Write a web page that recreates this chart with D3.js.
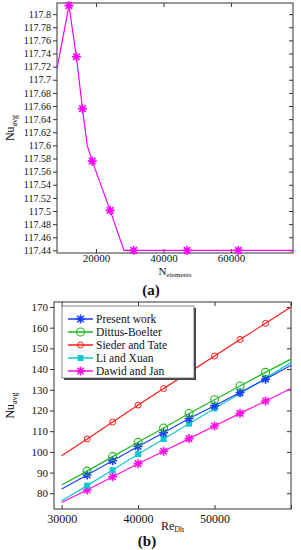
<!DOCTYPE html>
<html>
<head>
<meta charset="utf-8">
<script src="https://cdn.jsdelivr.net/npm/d3@7"></script>
<style>
  body { margin: 0; background: #fff; }
  svg { display: block; font-family: "Liberation Serif", "DejaVu Serif", serif; }
</style>
</head>
<body>
<svg id="viz" width="301" height="550"></svg>
<script>
// ---- (a) mesh independence ----
const meshN = [8450, 12000, 14200, 16000, 17400, 18900, 24200, 28300, 78400];
const meshNu = [117.717, 117.813, 117.735, 117.656, 117.600, 117.576, 117.501, 117.44, 117.44];
const markN = [12000, 14200, 16000, 18900, 24200, 31200, 47000, 62200];
const markNu = [117.813, 117.735, 117.656, 117.576, 117.501, 117.44, 117.44, 117.44];
const meshTicksX = [20000, 40000, 60000];

// ---- (b) Nu vs Re ----
const reVals = [30000, 33333, 36667, 40000, 43333, 46667, 50000, 53333, 56667, 60000];
const presentWork = [82.1, 88.8, 95.7, 102.6, 109.2, 116.1, 122.3, 128.7, 135.1, 141.8];
const dittusBoelter = [84.0, 90.7, 97.7, 104.6, 111.5, 118.5, 125.2, 131.8, 138.4, 144.8];
const siederTate = [98.1, 106.2, 114.4, 122.6, 130.6, 138.4, 146.3, 154.3, 162.1, 170.0];
const liXuan = [76.4, 83.7, 91.2, 98.9, 106.2, 113.6, 121.0, 128.2, 135.5, 143.2];
const dawidJan = [75.5, 81.6, 88.0, 94.3, 100.3, 106.4, 112.5, 118.6, 124.6, 130.6];
const seriesNames = ["Present work", "Dittus-Boelter", "Sieder and Tate", "Li and Xuan", "Dawid and Jan"];
const reTicks = [30000, 40000, 50000, 60000];

const svg = d3.select("#viz");

// marker helpers
function asterisk(r) {
  const d = r * 0.72;
  return `M${-r},0L${r},0M0,${-r}L0,${r}M${-d},${-d}L${d},${d}M${-d},${d}L${d},${-d}`;
}
function drawMarker(g, type, x, y, color) {
  if (type === "star") {
    g.append("path").attr("transform", `translate(${x},${y})`).attr("d", asterisk(4.5))
      .attr("stroke", color).attr("stroke-width", 1.6).attr("fill", "none");
  } else if (type === "circle") {
    g.append("circle").attr("cx", x).attr("cy", y).attr("r", 4)
      .attr("stroke", color).attr("stroke-width", 1.1).attr("fill", "none");
  } else if (type === "smallcircle") {
    g.append("circle").attr("cx", x).attr("cy", y).attr("r", 3)
      .attr("stroke", color).attr("stroke-width", 1).attr("fill", "none");
  } else if (type === "square") {
    g.append("rect").attr("x", x - 3).attr("y", y - 3).attr("width", 6).attr("height", 6)
      .attr("fill", color);
  }
}

// ================= chart (a) =================
const A = { l: 57, r: 293, t: 3, b: 253 };
const xa = d3.scaleLinear().domain([8450, 78400]).range([A.l, A.r]);
const ya = d3.scaleLinear().domain([117.436, 117.817]).range([A.b, A.t]);
const yTicksA = d3.range(0, 19).map(i => +(117.44 + i * 0.02).toFixed(2));
const fmtA = d => String(+d.toFixed(2));

const ga = svg.append("g");
ga.append("rect").attr("x", A.l).attr("y", A.t).attr("width", A.r - A.l).attr("height", A.b - A.t)
  .attr("fill", "none").attr("stroke", "#333").attr("stroke-width", 1);

// left ticks (outside) with labels
ga.append("g").attr("transform", `translate(${A.l},0)`)
  .call(d3.axisLeft(ya).tickValues(yTicksA).tickFormat(fmtA).tickSize(4).tickPadding(2))
  .call(g => g.select(".domain").remove())
  .call(g => g.selectAll("text").attr("font-size", 10).attr("font-family", "Liberation Serif").attr("fill", "#111"))
  .call(g => g.selectAll("line").attr("stroke", "#333"));
// right ticks (inside)
ga.append("g").attr("transform", `translate(${A.r},0)`)
  .call(d3.axisLeft(ya).tickValues(yTicksA).tickFormat("").tickSize(4))
  .call(g => g.select(".domain").remove())
  .call(g => g.selectAll("line").attr("stroke", "#333"));
// bottom ticks (inside) with labels
ga.append("g").attr("transform", `translate(0,${A.b})`)
  .call(d3.axisBottom(xa).tickValues(meshTicksX).tickFormat(d3.format("d")).tickSize(-4).tickPadding(1))
  .call(g => g.select(".domain").remove())
  .call(g => g.selectAll("text").attr("font-size", 11).attr("font-family", "Liberation Serif").attr("fill", "#111"))
  .call(g => g.selectAll("line").attr("stroke", "#333"));
// top ticks (inside)
ga.append("g").attr("transform", `translate(0,${A.t})`)
  .call(d3.axisTop(xa).tickValues(meshTicksX).tickFormat("").tickSize(-4))
  .call(g => g.select(".domain").remove())
  .call(g => g.selectAll("line").attr("stroke", "#333"));

ga.append("clipPath").attr("id", "clipA").append("rect")
  .attr("x", A.l).attr("y", A.t - 6).attr("width", A.r - A.l).attr("height", A.b - A.t + 12);
const meshLine = d3.line().x((d, i) => xa(meshN[i])).y(d => ya(d));
ga.append("path").datum(meshNu).attr("d", meshLine).attr("clip-path", "url(#clipA)")
  .attr("fill", "none").attr("stroke", "#ff00ff").attr("stroke-width", 1.2);
markNu.forEach((v, i) => drawMarker(ga, "star", xa(markN[i]), ya(v), "#ff00ff"));

// axis titles (a)
const ta = ga.append("text").attr("transform", `translate(14,${(A.t + A.b) / 2}) rotate(-90)`)
  .attr("text-anchor", "middle").attr("font-size", 12).attr("fill", "#111");
ta.append("tspan").text("Nu");
ta.append("tspan").attr("font-size", 8).attr("dy", 3).text("avg");
const tx = ga.append("text").attr("x", (A.l + A.r) / 2).attr("y", A.b + 22)
  .attr("text-anchor", "middle").attr("font-size", 11).attr("fill", "#111");
tx.append("tspan").text("N");
tx.append("tspan").attr("font-size", 7).attr("dy", 2).text("elements");
ga.append("text").attr("x", 151).attr("y", 295).attr("text-anchor", "middle")
  .attr("font-size", 15).attr("font-weight", "bold").attr("fill", "#111").text("(a)");

// ================= chart (b) =================
const B = { l: 54, r: 291, t: 302, b: 509 };
const xb = d3.scaleLinear().domain([29000, 60000]).range([B.l, B.r]);
const yb = d3.scaleLinear().domain([72.4, 172.4]).range([B.b, B.t]);
const yTicksB = d3.range(80, 171, 10);

const gb = svg.append("g");
gb.append("rect").attr("x", B.l).attr("y", B.t).attr("width", B.r - B.l).attr("height", B.b - B.t)
  .attr("fill", "none").attr("stroke", "#333").attr("stroke-width", 1);

gb.append("g").attr("transform", `translate(${B.l},0)`)
  .call(d3.axisLeft(yb).tickValues(yTicksB).tickSize(4).tickPadding(2))
  .call(g => g.select(".domain").remove())
  .call(g => g.selectAll("text").attr("font-size", 11).attr("font-family", "Liberation Serif").attr("fill", "#111"))
  .call(g => g.selectAll("line").attr("stroke", "#333"));
gb.append("g").attr("transform", `translate(${B.r},0)`)
  .call(d3.axisLeft(yb).tickValues(yTicksB).tickFormat("").tickSize(4))
  .call(g => g.select(".domain").remove())
  .call(g => g.selectAll("line").attr("stroke", "#333"));
gb.append("g").attr("transform", `translate(0,${B.b})`)
  .call(d3.axisBottom(xb).tickValues(reTicks).tickFormat(d => d === 60000 ? "" : d3.format("d")(d)).tickSize(-4).tickPadding(5))
  .call(g => g.select(".domain").remove())
  .call(g => g.selectAll("text").attr("font-size", 12).attr("font-family", "Liberation Serif").attr("fill", "#111"))
  .call(g => g.selectAll("line").attr("stroke", "#333"));
gb.append("g").attr("transform", `translate(0,${B.t})`)
  .call(d3.axisTop(xb).tickValues(reTicks).tickFormat("").tickSize(-4))
  .call(g => g.select(".domain").remove())
  .call(g => g.selectAll("line").attr("stroke", "#333"));

const series = [
  { name: seriesNames[0], vals: presentWork, color: "#1a3cff", marker: "star" },
  { name: seriesNames[1], vals: dittusBoelter, color: "#1fb81f", marker: "circle" },
  { name: seriesNames[2], vals: siederTate, color: "#ff1a1a", marker: "smallcircle" },
  { name: seriesNames[3], vals: liXuan, color: "#12c8d0", marker: "square" },
  { name: seriesNames[4], vals: dawidJan, color: "#ff10e0", marker: "star" }
];
const lineB = d3.line().x((d, i) => xb(reVals[i])).y(d => yb(d));
// draw in back-to-front order
[2, 4, 3, 0, 1].forEach(k => {
  const s = series[k];
  gb.append("path").datum(s.vals).attr("d", lineB)
    .attr("fill", "none").attr("stroke", s.color).attr("stroke-width", 1.2);
  s.vals.forEach((v, i) => {
    if (i === 0 || i === s.vals.length - 1) return;
    drawMarker(gb, s.marker, xb(reVals[i]), yb(v), s.color);
  });
});

// legend
const L = { x: 62, y: 306, w: 132, h: 72 };
gb.append("rect").attr("x", L.x + 2).attr("y", L.y + 2).attr("width", L.w).attr("height", L.h).attr("fill", "#444");
gb.append("rect").attr("x", L.x).attr("y", L.y).attr("width", L.w).attr("height", L.h)
  .attr("fill", "#fff").attr("stroke", "#666").attr("stroke-width", 0.8);
series.forEach((s, i) => {
  const yy = L.y + 13 + i * 13;
  gb.append("line").attr("x1", L.x + 6).attr("x2", L.x + 31).attr("y1", yy).attr("y2", yy)
    .attr("stroke", s.color).attr("stroke-width", 1.5);
  drawMarker(gb, s.marker, L.x + 18.5, yy, s.color);
  gb.append("text").attr("x", L.x + 34).attr("y", yy + 4).attr("font-size", 11.5).attr("fill", "#111").text(s.name);
});

// axis titles (b)
const tb = gb.append("text").attr("transform", `translate(14,${(B.t + B.b) / 2}) rotate(-90)`)
  .attr("text-anchor", "middle").attr("font-size", 12).attr("fill", "#111");
tb.append("tspan").text("Nu");
tb.append("tspan").attr("font-size", 8).attr("dy", 3).text("avg");
const txb = gb.append("text").attr("x", (B.l + B.r) / 2).attr("y", B.b + 21)
  .attr("text-anchor", "middle").attr("font-size", 12).attr("fill", "#111");
txb.append("tspan").text("Re");
txb.append("tspan").attr("font-size", 8).attr("dy", 2).text("Dh");
gb.append("text").attr("x", 147).attr("y", 546).attr("text-anchor", "middle")
  .attr("font-size", 15).attr("font-weight", "bold").attr("fill", "#111").text("(b)");
</script>
</body>
</html>
